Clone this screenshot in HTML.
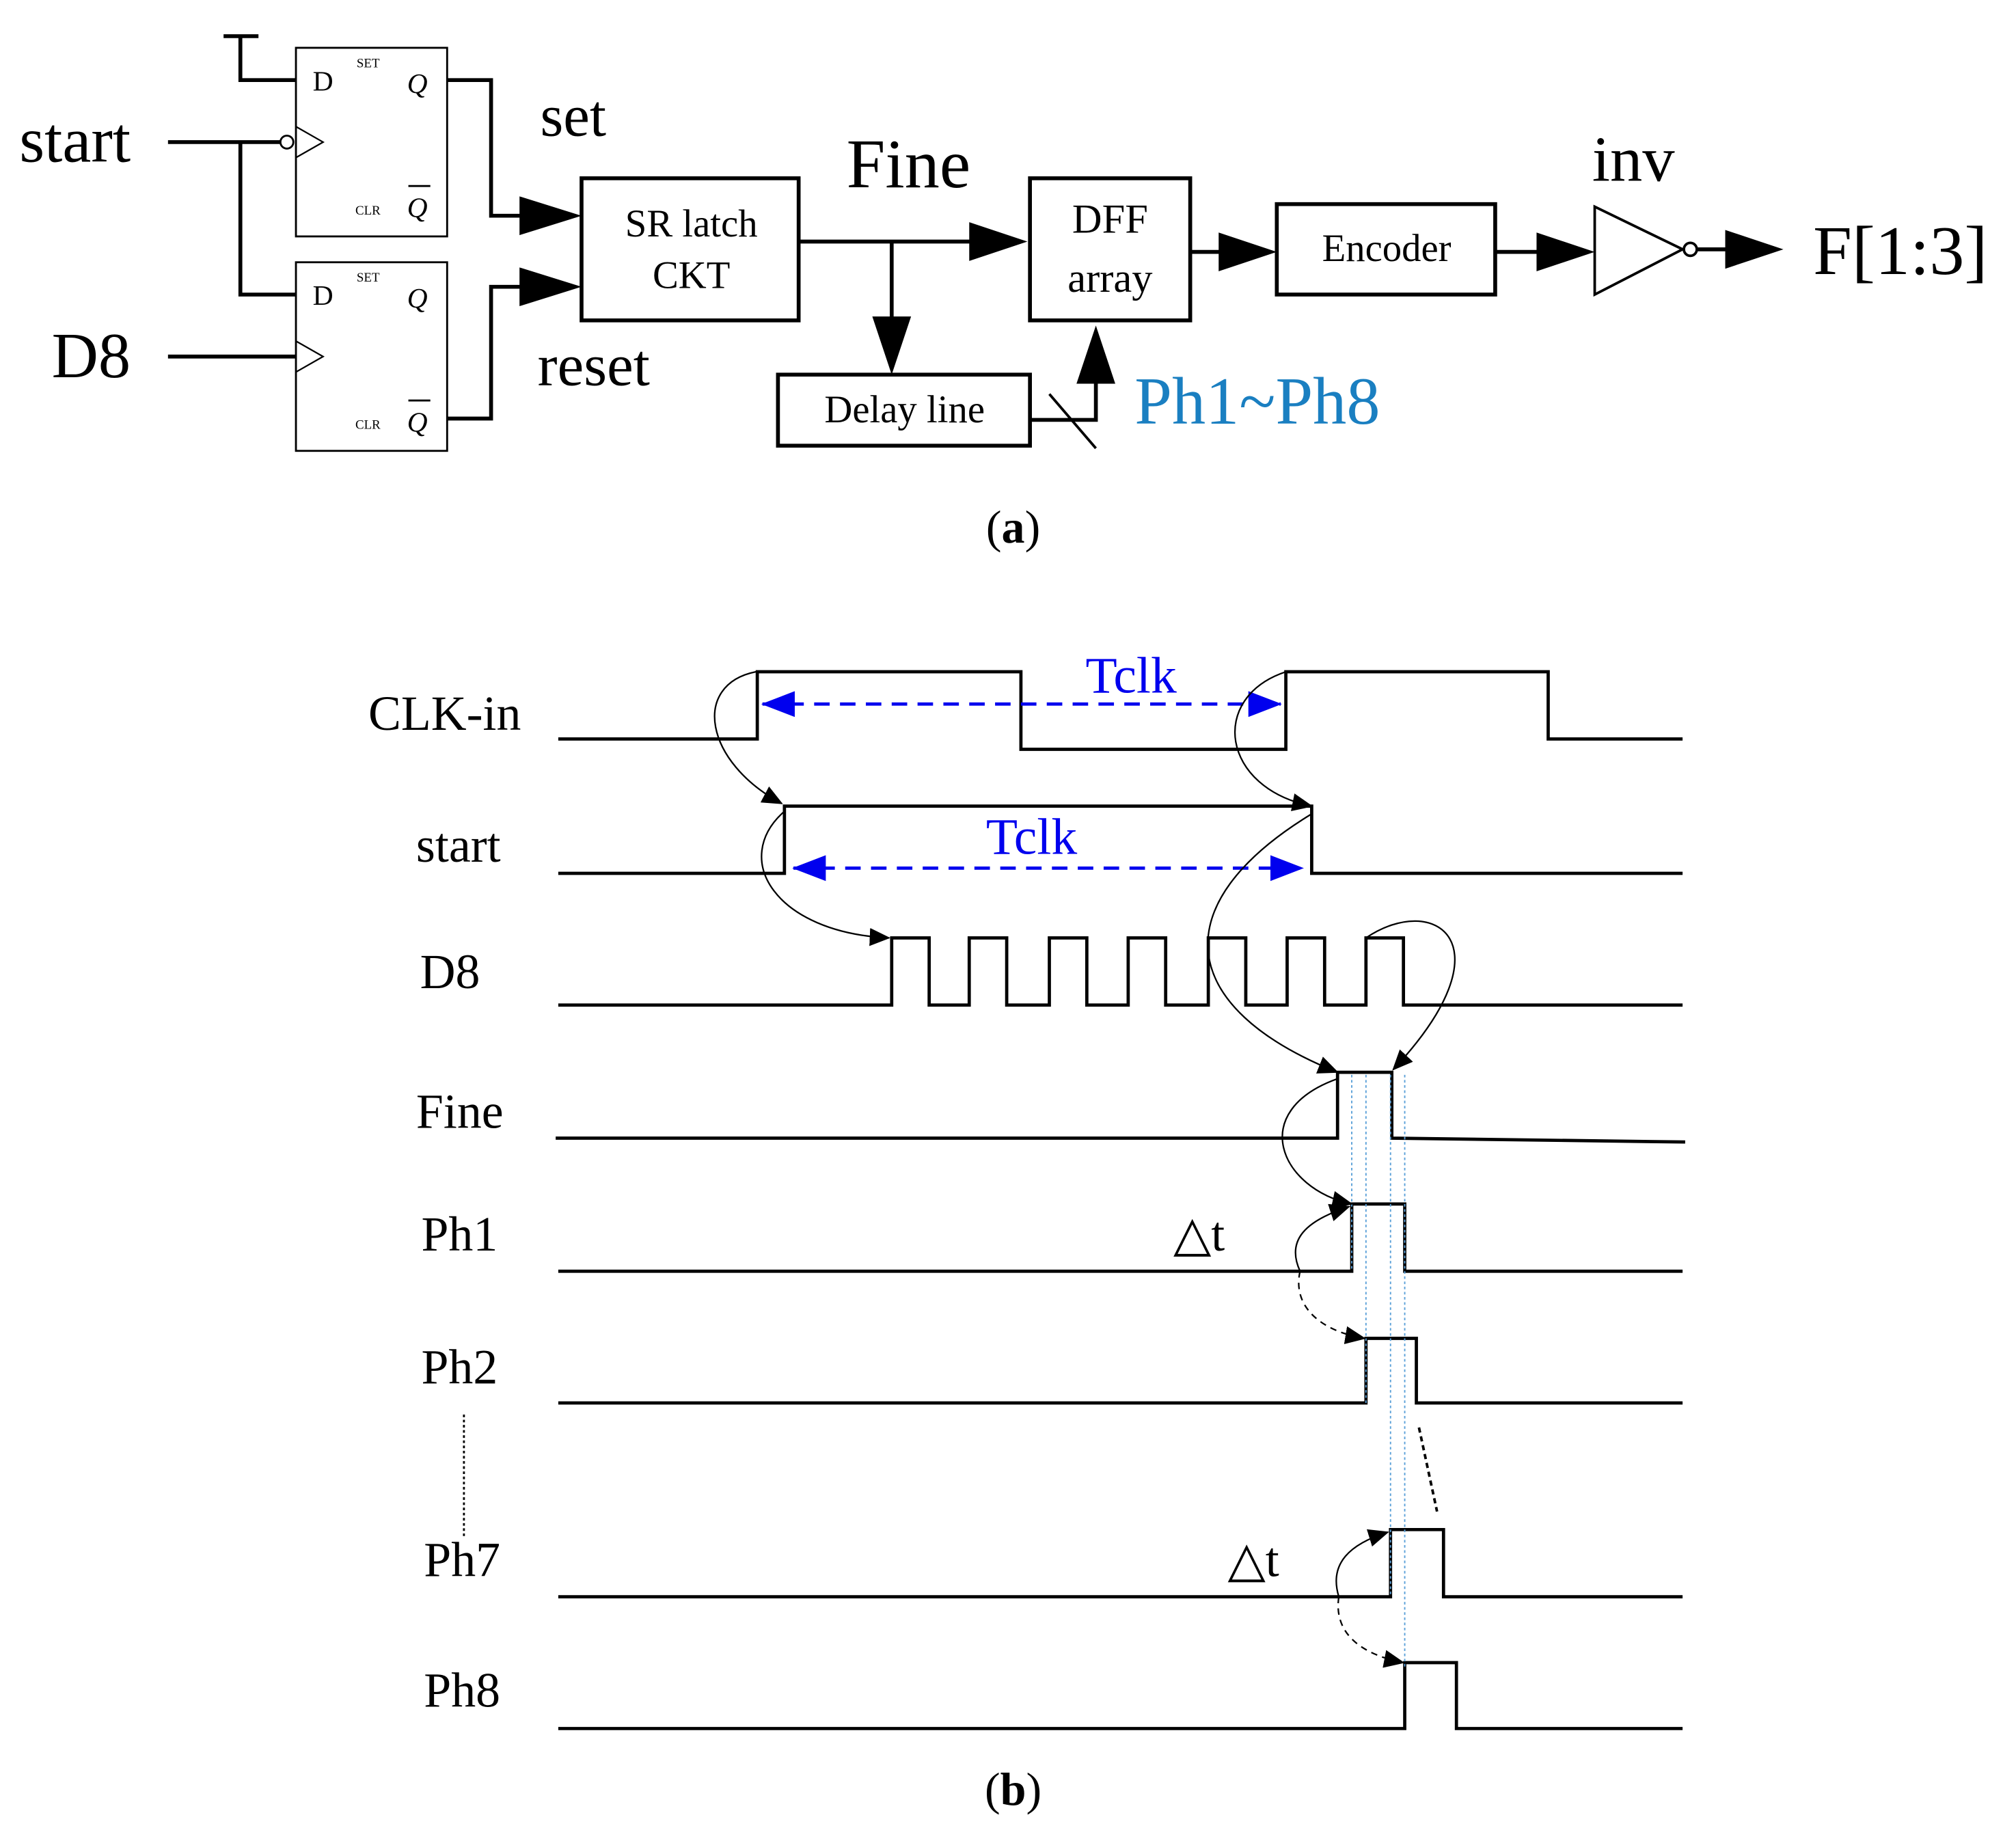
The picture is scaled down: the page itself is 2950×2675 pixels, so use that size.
<!DOCTYPE html>
<html><head><meta charset="utf-8"><style>
html,body{margin:0;padding:0;background:#fff;width:2950px;height:2675px;overflow:hidden}
svg{display:block}
text{font-family:"Liberation Serif",serif;fill:#000}
</style></head><body>
<svg width="2950" height="2675" viewBox="0 0 1560 1415" preserveAspectRatio="none" xmlns="http://www.w3.org/2000/svg">
<defs>
<marker id="ab" markerWidth="10" markerHeight="10" refX="9" refY="5" orient="auto" markerUnits="userSpaceOnUse" viewBox="0 0 10 10"><path d="M0,0 L10,5 L0,10z" fill="#000"/></marker>
<marker id="as" markerWidth="16" markerHeight="14" refX="15" refY="7" orient="auto" markerUnits="userSpaceOnUse" viewBox="0 0 16 14"><path d="M0,0 L16,7 L0,14z" fill="#000"/></marker>
<marker id="bl" markerWidth="26" markerHeight="20" refX="25" refY="10" orient="auto-start-reverse" markerUnits="userSpaceOnUse" viewBox="0 0 26 20"><path d="M0,0 L26,10 L0,20z" fill="#0000ee"/></marker>
</defs>
<g stroke="#000" fill="none">
<!-- flip flops -->
<rect x="229" y="37" width="117" height="146" stroke-width="1.5"/>
<rect x="229" y="203" width="117" height="146" stroke-width="1.5"/>
<path d="M229,98 L250,110 L229,122" stroke-width="1.2"/>
<path d="M229,264 L250,276 L229,288" stroke-width="1.2"/>
<circle cx="222" cy="110" r="5" stroke-width="1.5" fill="#fff"/>
<g stroke-width="3">
<path d="M173,28 H200 M186,28 V62 H229"/>
<path d="M130,110 H217 M186,110 V228 H229"/>
<path d="M130,276 H229"/>
<path d="M346,62 H380 V167 H410"/>
<path d="M346,324 H380 V222 H410"/>
<rect x="450" y="138" width="168" height="110"/>
<path d="M618,187 H755 M690,187 V250"/>
<rect x="602" y="290" width="195" height="55"/>
<path d="M797,325 H848 V290"/>
<rect x="797" y="138" width="124" height="110"/>
<path d="M921,195 H948"/>
<rect x="988" y="158" width="169" height="70"/>
<path d="M1157,195 H1194"/>
<path d="M1313,193 H1340"/>
</g>
<path d="M812,305 L848,347" stroke-width="2"/>
<path d="M1234,160 L1302,193 L1234,228z" stroke-width="2"/>
<circle cx="1308" cy="193" r="5" stroke-width="2" fill="#fff"/>
</g>
<g fill="#000">
<path d="M402,152 L450,167 L402,182z"/><path d="M402,207 L450,222 L402,237z"/>
<path d="M750,172 L795,187 L750,202z"/><path d="M675,245 L690,290 L705,245z"/>
<path d="M833,297 L848,252 L863,297z"/><path d="M943,180 L988,195 L943,210z"/>
<path d="M1189,180 L1234,195 L1189,210z"/><path d="M1335,178 L1380,193 L1335,208z"/>
</g>
<text x="242" y="70" font-size="22">D</text>
<text x="276" y="52" font-size="10">SET</text>
<text x="315" y="72" font-size="22" font-style="italic">Q</text>
<text x="275" y="166" font-size="10">CLR</text>
<text x="315" y="168" font-size="22" font-style="italic">Q</text>
<line x1="316" y1="144" x2="333" y2="144" stroke="#000" stroke-width="1.5"/>
<text x="242" y="236" font-size="22">D</text>
<text x="276" y="218" font-size="10">SET</text>
<text x="315" y="238" font-size="22" font-style="italic">Q</text>
<text x="275" y="332" font-size="10">CLR</text>
<text x="315" y="334" font-size="22" font-style="italic">Q</text>
<line x1="316" y1="310" x2="333" y2="310" stroke="#000" stroke-width="1.5"/>
<text x="15" y="125" font-size="50">start</text>
<text x="40" y="292" font-size="50">D8</text>
<text x="418" y="105" font-size="46">set</text>
<text x="416" y="298" font-size="46">reset</text>
<text x="655" y="145" font-size="54">Fine</text>
<text x="1232" y="140" font-size="50">inv</text>
<text x="1403" y="212" font-size="54">F[1:3]</text>
<text x="535" y="183" font-size="30" text-anchor="middle">SR latch</text>
<text x="535" y="223" font-size="30" text-anchor="middle">CKT</text>
<text x="700" y="327" font-size="30" text-anchor="middle">Delay line</text>
<text x="859" y="180" font-size="32" text-anchor="middle">DFF</text>
<text x="859" y="226" font-size="32" text-anchor="middle">array</text>
<text x="1073" y="202" font-size="30" text-anchor="middle">Encoder</text>
<text x="878" y="328" font-size="52" style="fill:#1a7fc1">Ph1~Ph8</text>
<text x="784" y="420" font-size="36" text-anchor="middle">(<tspan font-weight="bold">a</tspan>)</text>

<!-- timing -->
<g stroke="#000" stroke-width="2.5" fill="none">
<path d="M432,572 H586 V520 H790 V580 H995 V520 H1198 V572 H1302"/>
<path d="M432,676 H607 V624 H1015 V676 H1302"/>
<path d="M432,778 H690 V726 H719 V778 H750 V726 H779 V778 H812 V726 H841 V778 H873 V726 H902 V778 H935 V726 H964 V778 H996 V726 H1025 V778 H1057 V726 H1086 V778 H1302"/>
<path d="M430,881 H1035 V830 H1077 V881 L1304,884"/>
<path d="M432,984 H1046 V932 H1087 V984 H1302"/>
<path d="M432,1086 H1057 V1036 H1096 V1086 H1302"/>
<path d="M432,1236 H1076 V1184 H1117 V1236 H1302"/>
<path d="M432,1338 H1087 V1287 H1127 V1338 H1302"/>
</g>
<g stroke="#5aa0d8" stroke-width="1" stroke-dasharray="2,2">
<line x1="1046" y1="832" x2="1046" y2="984"/><line x1="1057" y1="832" x2="1057" y2="1086"/>
<line x1="1076" y1="832" x2="1076" y2="1236"/><line x1="1087" y1="832" x2="1087" y2="1290"/>
</g>
<line x1="359" y1="1095" x2="359" y2="1190" stroke="#000" stroke-width="1.5" stroke-dasharray="2,2"/>
<line x1="1098" y1="1105" x2="1112" y2="1170" stroke="#000" stroke-width="2" stroke-dasharray="4,3"/>
<g stroke="#0000ee" stroke-width="2.5" stroke-dasharray="12,8">
<line x1="590" y1="545" x2="991" y2="545" marker-start="url(#bl)" marker-end="url(#bl)"/>
<line x1="614" y1="672" x2="1008" y2="672" marker-start="url(#bl)" marker-end="url(#bl)"/>
</g>
<text x="840" y="536" font-size="40" style="fill:#0000ee">Tclk</text>
<text x="763" y="661" font-size="40" style="fill:#0000ee">Tclk</text>
<g stroke="#000" stroke-width="1.2" fill="none" marker-end="url(#as)">
<path d="M585,520 C535,530 545,590 605,622"/>
<path d="M995,520 C935,540 945,610 1015,624"/>
<path d="M607,628 C565,665 600,722 688,726"/>
<path d="M1015,630 C900,700 910,780 1035,830"/>
<path d="M1057,726 C1110,690 1170,730 1078,828"/>
<path d="M1035,835 C965,860 990,920 1046,932"/>
<path d="M1006,984 C995,960 1010,945 1044,934"/>
<path d="M1006,984 C1000,1010 1020,1030 1056,1036" stroke-dasharray="5,4"/>
<path d="M1036,1236 C1028,1210 1045,1195 1074,1186"/>
<path d="M1036,1236 C1032,1262 1050,1280 1086,1287" stroke-dasharray="5,4"/>
</g>
<text x="285" y="565" font-size="38">CLK-in</text>
<text x="322" y="667" font-size="38">start</text>
<text x="325" y="765" font-size="38">D8</text>
<text x="322" y="873" font-size="38">Fine</text>
<text x="326" y="968" font-size="38">Ph1</text>
<text x="326" y="1071" font-size="38">Ph2</text>
<text x="328" y="1220" font-size="38">Ph7</text>
<text x="328" y="1321" font-size="38">Ph8</text>
<text x="908" y="968" font-size="38">△t</text>
<text x="950" y="1220" font-size="38">△t</text>
<text x="784" y="1397" font-size="36" text-anchor="middle">(<tspan font-weight="bold">b</tspan>)</text>
</svg>
</body></html>
